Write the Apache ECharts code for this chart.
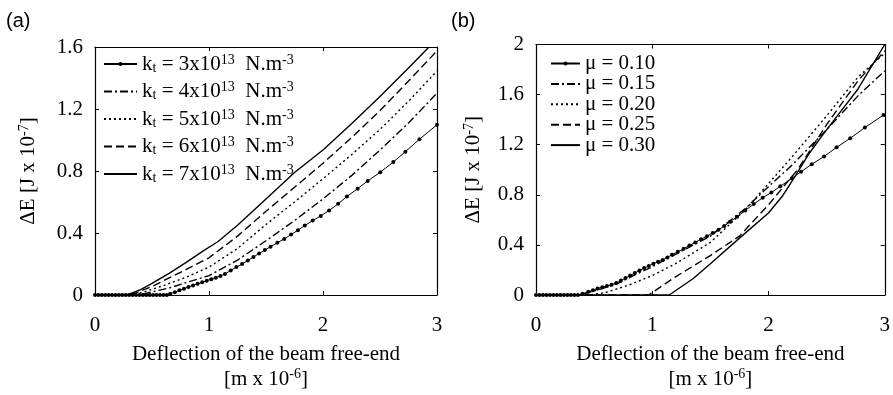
<!DOCTYPE html>
<html><head><meta charset="utf-8">
<script src="https://cdn.jsdelivr.net/npm/echarts@6/dist/echarts.min.js"></script>
<style>html,body{margin:0;padding:0;background:#fff}#c{width:893px;height:395px}</style>
</head><body><div id="c"></div>
<script>
// ---------- data ----------
const xTicks = [0, 1, 2, 3];
const yTicksA = [0, 0.4, 0.8, 1.2, 1.6];
const yTicksB = [0, 0.4, 0.8, 1.2, 1.6, 2];

// panel (a): k_t series
const kt3 = [[0,0],[0.03,0],[0.06,0],[0.09,0],[0.12,0],[0.15,0],[0.18,0],[0.21,0],[0.24,0],[0.27,0],[0.3,0],[0.33,0],[0.36,0],[0.39,0],[0.42,0],[0.45,0],[0.48,0],[0.51,0],[0.54,0],[0.57,0],[0.6,0],[0.63,0],
  [0.66,0.008],[0.7,0.018],[0.74,0.03],[0.78,0.04],[0.82,0.052],[0.86,0.062],[0.9,0.072],[0.94,0.082],[0.98,0.092],[1.02,0.102],[1.06,0.112],[1.1,0.122],
  [1.14,0.136],[1.19,0.158],[1.24,0.18],[1.29,0.2],[1.34,0.222],[1.39,0.245],[1.44,0.268],[1.49,0.29],[1.54,0.312],[1.6,0.337],[1.66,0.362],[1.72,0.39],
  [1.78,0.418],[1.84,0.448],[1.91,0.48],[1.98,0.51],[2.054,0.545],[2.133,0.588],[2.21,0.636],[2.304,0.686],[2.392,0.736],[2.503,0.792],[2.617,0.858],
  [2.723,0.925],[2.846,1.005],[3.0,1.098]];
const kt4 = [[0,0],[0.38,0],[0.5,0.02],[0.65,0.045],[0.8,0.08],[1.0,0.125],[1.25,0.225],[1.5,0.35],[1.75,0.48],[2.0,0.62],[2.25,0.77],[2.5,0.935],[2.75,1.11],[3.0,1.302]];
const kt5 = [[0,0],[0.33,0],[0.45,0.025],[0.6,0.06],[0.8,0.115],[1.0,0.18],[1.25,0.3],[1.5,0.455],[1.75,0.6],[2.0,0.75],[2.25,0.905],[2.5,1.068],[2.75,1.25],[3.0,1.445]];
const kt6 = [[0,0],[0.3,0],[0.4,0.025],[0.5,0.055],[0.65,0.11],[0.8,0.165],[1.0,0.24],[1.25,0.38],[1.5,0.54],[1.75,0.695],[2.0,0.85],[2.25,1.015],[2.5,1.19],[2.75,1.38],[3.0,1.575]];
const kt7 = [[0,0],[0.28,0],[0.4,0.035],[0.5,0.075],[0.65,0.14],[0.8,0.21],[0.95,0.285],[1.08,0.345],[1.25,0.45],[1.5,0.62],[1.75,0.79],[2.0,0.935],[2.25,1.105],[2.5,1.28],[2.75,1.465],[2.93,1.6]];

// panel (b): mu series
const mu10 = [[0,0],[0.03,0],[0.06,0],[0.09,0],[0.12,0],[0.15,0],[0.18,0],[0.21,0],[0.24,0],[0.27,0],[0.3,0],[0.33,0],[0.36,0],
  [0.4,0.01],[0.45,0.026],[0.49,0.038],[0.53,0.052],[0.57,0.062],[0.61,0.072],[0.65,0.082],[0.69,0.095],[0.73,0.115],[0.77,0.135],[0.81,0.155],
  [0.85,0.175],[0.89,0.195],[0.93,0.215],[0.97,0.232],[1.01,0.25],[1.05,0.265],[1.09,0.28],[1.13,0.3],[1.17,0.322],[1.22,0.345],[1.27,0.37],
  [1.32,0.395],[1.37,0.42],[1.42,0.445],[1.47,0.47],[1.52,0.495],[1.57,0.52],[1.62,0.55],[1.67,0.585],[1.73,0.625],[1.8,0.675],[1.873,0.726],
  [1.95,0.777],[2.025,0.818],[2.102,0.868],[2.201,0.932],[2.28,0.984],[2.372,1.044],[2.478,1.106],[2.586,1.179],[2.703,1.251],[2.829,1.337],[2.99,1.437]];
const mu15 = [[0,0],[0.38,0],[0.45,0.02],[0.55,0.045],[0.7,0.09],[0.85,0.16],[1.0,0.225],[1.2,0.325],[1.5,0.47],[1.8,0.69],[2.0,0.865],[2.2,1.035],[2.5,1.32],[2.77,1.59],[3.0,1.79]];
const mu20 = [[0,0],[0.45,0],[0.6,0.02],[0.8,0.08],[1.0,0.155],[1.2,0.25],[1.5,0.42],[1.8,0.68],[2.0,0.89],[2.2,1.1],[2.5,1.43],[2.77,1.74],[3.0,1.93]];
const mu25 = [[0,0],[0.97,0],[1.2,0.145],[1.5,0.315],[1.75,0.47],[2.0,0.72],[2.25,1.0],[2.5,1.36],[2.77,1.71],[3.0,1.95]];
const mu30 = [[0,0],[1.146,0],[1.35,0.13],[1.5,0.25],[1.77,0.47],[2.0,0.655],[2.12,0.79],[2.22,0.935],[2.35,1.13],[2.46,1.27],[2.6,1.44],[2.77,1.645],[3.0,2.0]];

const legendA = {
  kt3: '{m|k}{sb|t}{m| = 3x10}{sp|13}{m|  N.m}{sp|-3}',
  kt4: '{m|k}{sb|t}{m| = 4x10}{sp|13}{m|  N.m}{sp|-3}',
  kt5: '{m|k}{sb|t}{m| = 5x10}{sp|13}{m|  N.m}{sp|-3}',
  kt6: '{m|k}{sb|t}{m| = 6x10}{sp|13}{m|  N.m}{sp|-3}',
  kt7: '{m|k}{sb|t}{m| = 7x10}{sp|13}{m|  N.m}{sp|-3}'
};
const legendB = {
  mu10: '{m|μ = 0.10}', mu15: '{m|μ = 0.15}', mu20: '{m|μ = 0.20}', mu25: '{m|μ = 0.25}', mu30: '{m|μ = 0.30}'
};

// ---------- styles ----------
const FONT = 'Liberation Serif';
const BLACK = '#000';
const rich = {
  m: {fontFamily: FONT, fontSize: 21, lineHeight: 22, color: BLACK},
  n: {fontFamily: FONT, fontSize: 21, lineHeight: 25, color: BLACK},
  sp: {fontFamily: FONT, fontSize: 14, lineHeight: 14, verticalAlign: 'top', color: BLACK},
  sb: {fontFamily: FONT, fontSize: 14, lineHeight: 13, verticalAlign: 'bottom', color: BLACK}
};
const richB = {
  m: {fontFamily: FONT, fontSize: 21, lineHeight: 20, color: BLACK}
};
const xName = '{n|Deflection of the beam free-end}\n{n|[m x 10}{sp|-6}{n|]}';
const yName = '{m|ΔE [J x 10}{sp|-7}{m|]}';

function xAx(grid, bottom) {
  return {
    gridIndex: grid, type: 'value', min: 0, max: 3, interval: 1,
    position: bottom ? 'bottom' : 'top',
    axisLine: {show: true, onZero: false, lineStyle: {color: BLACK, width: 1.2}},
    axisTick: {show: true, inside: true, length: 4, lineStyle: {color: BLACK}},
    axisLabel: {show: bottom, margin: 20, fontFamily: FONT, fontSize: 21, color: BLACK},
    splitLine: {show: false},
    name: bottom ? xName : '', nameLocation: 'middle', nameGap: 47,
    nameTextStyle: {rich: rich}
  };
}
function yAx(grid, left, max, gap) {
  return {
    gridIndex: grid, type: 'value', min: 0, max: max, interval: 0.4,
    position: left ? 'left' : 'right',
    axisLine: {show: true, onZero: false, lineStyle: {color: BLACK, width: 1.2}},
    axisTick: {show: true, inside: true, length: 4, lineStyle: {color: BLACK}},
    axisLabel: {show: left, margin: 12, fontFamily: FONT, fontSize: 21, color: BLACK},
    splitLine: {show: false},
    name: left ? yName : '', nameLocation: 'middle', nameGap: gap, nameRotate: 90,
    nameTextStyle: {rich: rich}
  };
}
function ln(name, data, xi, yi, type) {
  return {name: name, type: 'line', xAxisIndex: xi, yAxisIndex: yi, data: data,
    symbol: 'none', animation: false, clip: true,
    lineStyle: {color: BLACK, width: 1.4, type: type}, itemStyle: {color: BLACK}};
}
function mk(name, data, xi, yi) {
  return {name: name, type: 'line', xAxisIndex: xi, yAxisIndex: yi, data: data,
    symbol: 'circle', symbolSize: 4, showSymbol: true, animation: false, clip: true,
    lineStyle: {color: BLACK, width: 1}, itemStyle: {color: BLACK}};
}
const DASHDOT = [8, 3, 2, 3];
const DOT = [2, 3];
const DASH = [8, 4];
const hide = {opacity: 0};

const option = {
  backgroundColor: '#fff',
  animation: false,
  title: [
    {text: '(a)', left: 6, top: 11, padding: 0, textStyle: {fontFamily: 'Liberation Sans', fontSize: 20, fontWeight: 'normal', color: BLACK}},
    {text: '(b)', left: 451, top: 11, padding: 0, textStyle: {fontFamily: 'Liberation Sans', fontSize: 20, fontWeight: 'normal', color: BLACK}}
  ],
  grid: [
    {left: 95, top: 47, width: 342, height: 255},
    {left: 536, top: 44.5, width: 350.5, height: 257}
  ],
  xAxis: [xAx(0, true), xAx(0, false), xAx(1, true), xAx(1, false)],
  yAxis: [yAx(0, true, 1.6, 56), yAx(0, false, 1.6, 0), yAx(1, true, 2, 52), yAx(1, false, 2, 0)],
  legend: [
    {orient: 'vertical', left: 103, top: 53, padding: 0, itemWidth: 33, itemHeight: 5, itemGap: 5.5,
     selectedMode: false,
     data: [{name: 'kt3'}, {name: 'kt4', itemStyle: hide}, {name: 'kt5', itemStyle: hide}, {name: 'kt6', itemStyle: hide}, {name: 'kt7', itemStyle: hide}],
     formatter: n => legendA[n], textStyle: {rich: rich}},
    {orient: 'vertical', left: 550, top: 53, padding: 0, itemWidth: 29, itemHeight: 5, itemGap: -0.6,
     selectedMode: false,
     data: [{name: 'mu10'}, {name: 'mu15', itemStyle: hide}, {name: 'mu20', itemStyle: hide}, {name: 'mu25', itemStyle: hide}, {name: 'mu30', itemStyle: hide}],
     formatter: n => legendB[n], textStyle: {rich: richB}}
  ],
  series: [
    mk('kt3', kt3, 0, 0),
    ln('kt4', kt4, 0, 0, DASHDOT),
    ln('kt5', kt5, 0, 0, DOT),
    ln('kt6', kt6, 0, 0, DASH),
    ln('kt7', kt7, 0, 0, 'solid'),
    mk('mu10', mu10, 2, 2),
    ln('mu15', mu15, 2, 2, DASHDOT),
    ln('mu20', mu20, 2, 2, DOT),
    ln('mu25', mu25, 2, 2, DASH),
    ln('mu30', mu30, 2, 2, 'solid')
  ]
};
const chart = echarts.init(document.getElementById('c'));
chart.setOption(option);
</script>
</body></html>
